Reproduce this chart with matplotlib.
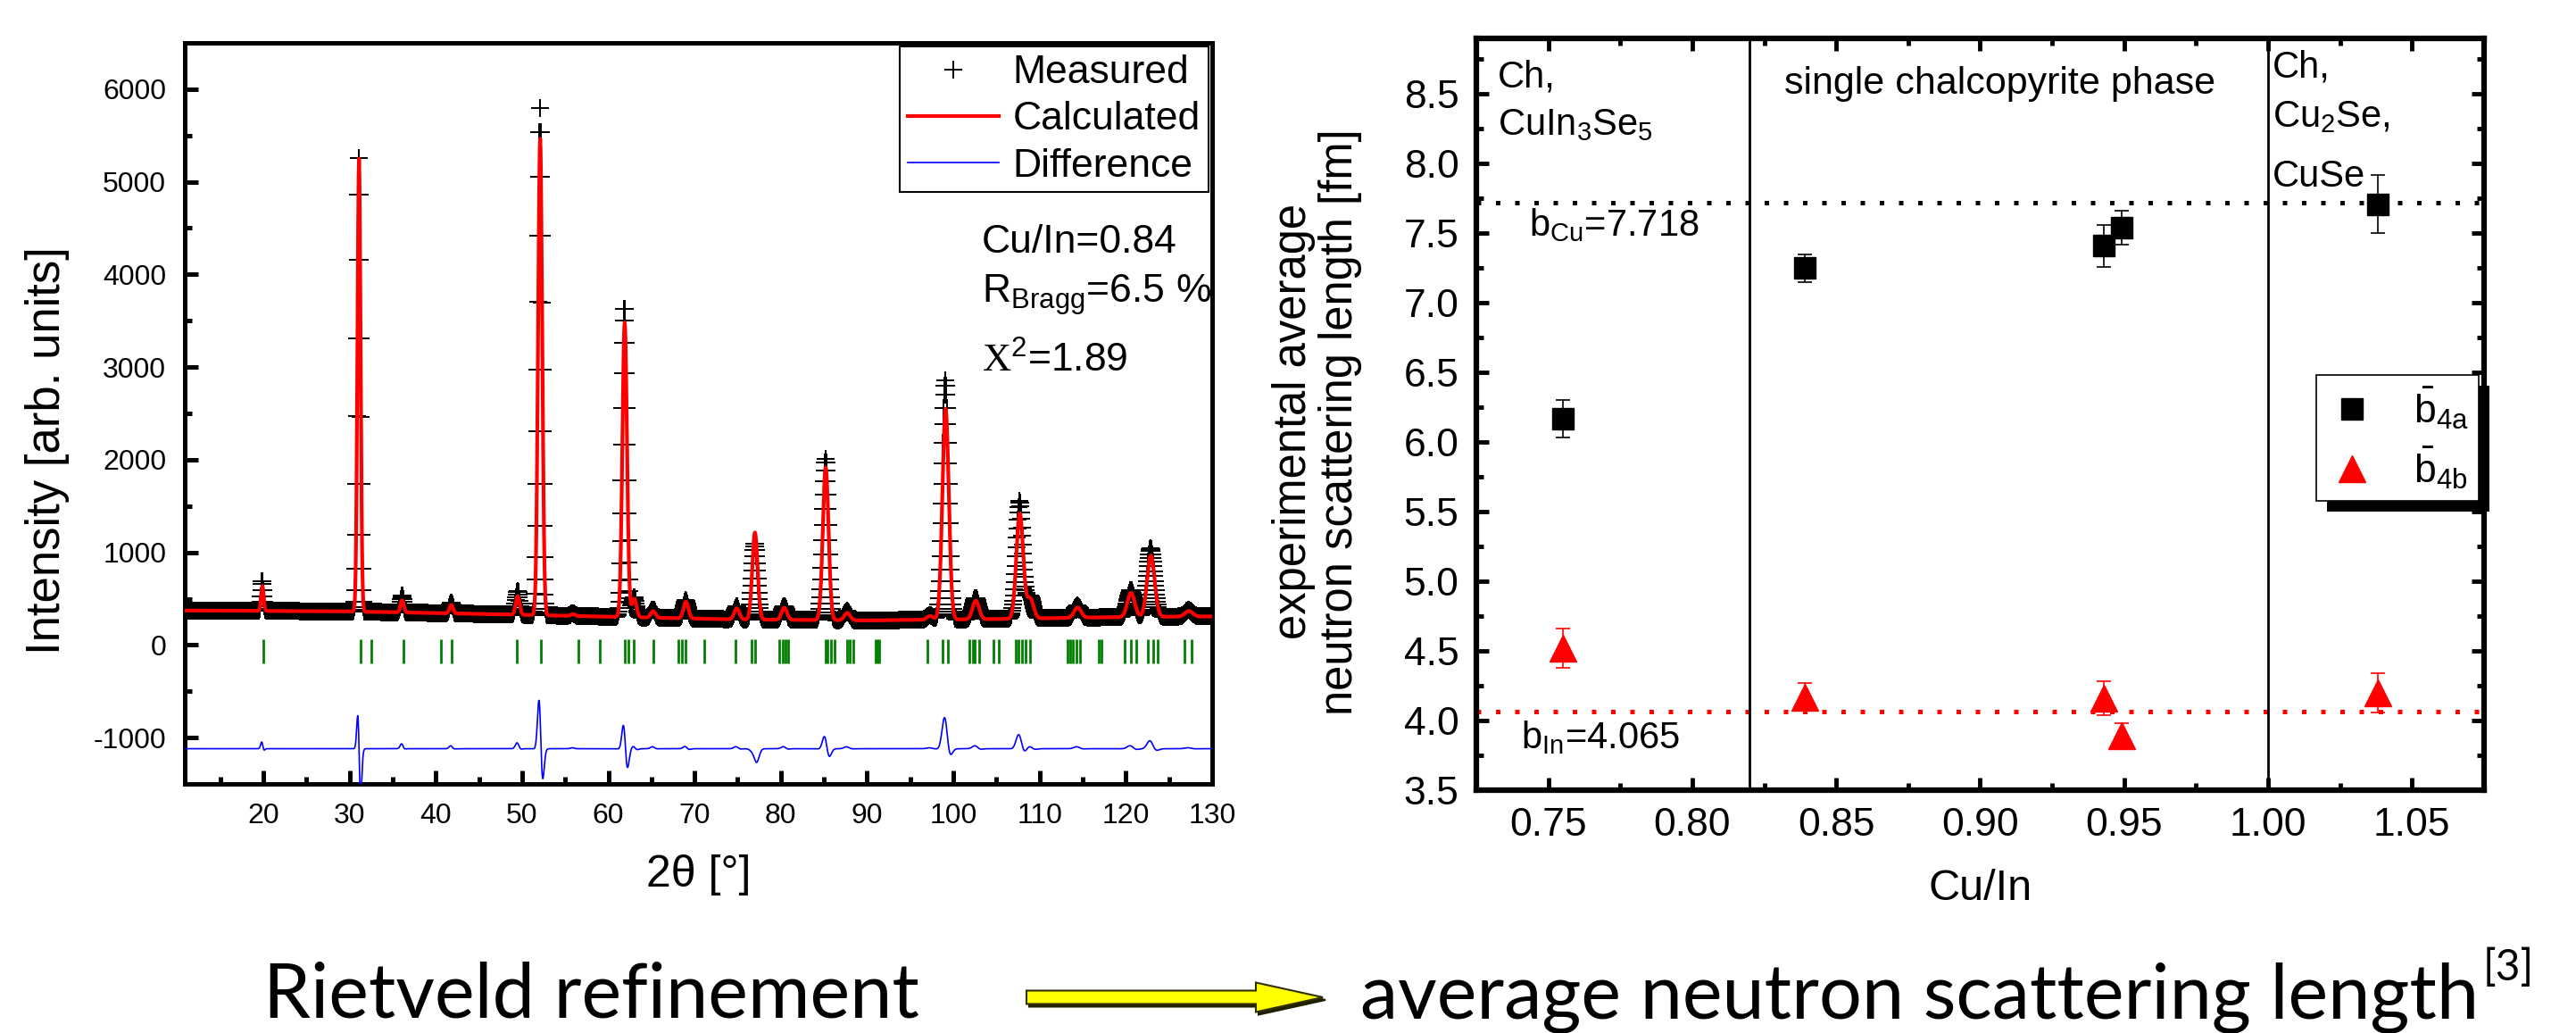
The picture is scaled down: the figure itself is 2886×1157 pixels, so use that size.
import numpy as np
import matplotlib
matplotlib.use("Agg")
import matplotlib.pyplot as plt
from matplotlib.lines import Line2D
from matplotlib.patches import FancyArrow, Rectangle
from matplotlib.transforms import IdentityTransform
from matplotlib.ticker import MultipleLocator, FormatStrFormatter

plt.rcParams['font.family'] = ['Liberation Sans', 'DejaVu Sans']
plt.rcParams['mathtext.fontset'] = 'custom'
plt.rcParams['mathtext.rm'] = 'Liberation Sans'
plt.rcParams['mathtext.it'] = 'Liberation Sans:italic'
plt.rcParams['mathtext.bf'] = 'Liberation Sans:bold'
plt.rcParams['mathtext.sf'] = 'Liberation Serif'
plt.rcParams['axes.unicode_minus'] = False

# ---------------- left: Rietveld pattern ----------------
bg_knots = [11, 30, 45, 60, 75, 90, 105, 120, 130]
bg_level = [372, 362, 335, 305, 275, 265, 280, 302, 308]

peak_pos = [19.9, 31.1, 36.1, 41.8, 49.5, 52.1, 55.9, 61.9, 63.0, 65.2, 69.0,
            74.9, 77.0, 80.4, 85.2, 87.7, 97.3, 99.1, 102.6, 107.7, 108.9,
            114.4, 120.6, 122.9, 127.3]
calc_height = [270, 4890, 130, 90, 200, 5145, 20, 3180, 200, 70, 180,
               120, 940, 130, 1650, 80, 40, 2275, 200, 1135, 215,
               110, 260, 660, 60]
obs_height = [330, 4950, 180, 120, 260, 5505, 30, 3340, 220, 90, 200,
              140, 820, 150, 1750, 100, 50, 2585, 230, 1275, 240,
              130, 290, 740, 70]
obs_shift = -0.025  # measured peaks sit slightly left of the fit

reflections = [20.0, 31.3, 32.5, 36.2, 40.6, 41.8, 49.4, 52.2, 56.5, 59.0,
               61.9, 62.3, 62.9, 65.2, 68.1, 68.5, 69.0, 71.1, 74.7, 76.6,
               77.0, 79.8, 80.2, 80.5, 80.9, 85.2, 85.4, 85.8, 86.2, 87.7,
               88.0, 88.4, 91.0, 91.2, 91.4, 97.0, 98.8, 99.4, 101.9, 102.3,
               102.5, 103.0, 104.6, 105.3, 107.2, 107.5, 108.0, 108.4, 108.9,
               113.2, 113.5, 113.9, 114.3, 114.7, 116.9, 117.2, 119.9, 120.6,
               121.2, 122.6, 123.2, 123.7, 126.8, 127.6, 130.0]

diff_offset = -1120
two_theta = np.arange(11.0, 130.0001, 0.05)


def profile(x, heights, width_scale=1.0, shift=0.0):
    y = np.interp(x, bg_knots, bg_level)
    for p, h in zip(peak_pos, heights):
        fwhm = (0.35 + 0.0065 * (p - 20)) * width_scale
        y = y + h * np.exp(-4 * np.log(2) * ((x - p - shift) / fwhm) ** 2)
    return y


calc = profile(two_theta, calc_height)
meas = profile(two_theta, obs_height, 0.96, obs_shift)
diff = meas - calc + diff_offset

# ---------------- right: scattering lengths ----------------
cu_in = [0.755, 0.839, 0.943, 0.949, 1.038]
b4a = [6.17, 7.25, 7.41, 7.54, 7.71]
b4a_err = [0.135, 0.10, 0.15, 0.12, 0.21]
b4b = [4.52, 4.17, 4.16, 3.89, 4.20]
b4b_err = [0.14, 0.10, 0.12, 0.09, 0.14]
b_cu = 7.718
b_in = 4.065
phase_bounds = [0.82, 1.00]

W, H = 2886, 1157
fig = plt.figure(figsize=(W / 100, H / 100), dpi=100)

# left axes
ax1 = fig.add_axes([207 / W, (H - 878) / H, 1151 / W, 830 / H])
ax1.plot(two_theta, meas, ls='none', marker='+', ms=14, mew=1.4,
         color='black', label='Measured', zorder=2)
ax1.plot(two_theta, calc, color='red', lw=3, label='Calculated', zorder=3)
ax1.plot(two_theta, diff, color='blue', lw=1.2, label='Difference', zorder=3)
ax1.vlines(reflections, -200, 60, color='#008000', lw=2, zorder=2)
ax1.set_xlim(10.9, 130)
ax1.set_ylim(-1500, 6500)
ax1.xaxis.set_major_locator(MultipleLocator(10))
ax1.xaxis.set_minor_locator(MultipleLocator(5))
ax1.yaxis.set_major_locator(MultipleLocator(1000))
ax1.yaxis.set_minor_locator(MultipleLocator(500))
ax1.tick_params(which='both', direction='in', width=3.6, labelsize=23, pad=15)
ax1.tick_params(which='major', length=11)
ax1.tick_params(which='minor', length=6)
for s in ax1.spines.values():
    s.set_linewidth(3.6)
ax1.set_xlabel('2θ [°]', fontsize=36)
ax1.xaxis.set_label_coords(0.5, -0.095)
ax1.set_ylabel('Intensity [arb. units]', fontsize=38)
ax1.yaxis.set_label_coords(-0.112, 0.45)
leg1 = ax1.legend(loc='upper right', bbox_to_anchor=(1.0, 1.0), fontsize=32,
                  frameon=True, fancybox=False, framealpha=1, edgecolor='black',
                  borderaxespad=0.1, borderpad=0.2, labelspacing=0.25,
                  handlelength=2.3, handletextpad=0.35)
leg1.get_frame().set_linewidth(1.5)
ax1.text(103.3, 4235, 'Cu/In=0.84', fontsize=32, va='baseline')
ax1.text(103.3, 3695, r'R$_{\mathrm{Bragg}}$=6.5 %', fontsize=32, va='baseline')
ax1.text(103.3, 2943, r'$\mathsf{X}^{2}$=1.89', fontsize=32, va='baseline')

# right axes
ax2 = fig.add_axes([1654 / W, (H - 885) / H, 1129 / W, 842 / H])
ax2.axhline(b_cu, color='black', lw=3.6, ls=(0, (1, 3.3)), zorder=1)
ax2.axhline(b_in, color='red', lw=3.6, ls=(0, (1, 3.3)), zorder=1)
for xb in phase_bounds:
    ax2.axvline(xb, color='black', lw=2, zorder=1)
ax2.errorbar(cu_in, b4a, yerr=b4a_err, fmt='s', color='black', ms=17,
             ecolor='black', elinewidth=1.2, capsize=6, capthick=1.2, zorder=3)
ax2.errorbar(cu_in, b4b, yerr=b4b_err, fmt='^', color='red', ms=21,
             ecolor='red', elinewidth=1.2, capsize=6, capthick=1.2, zorder=3)
ax2.set_xlim(0.725, 1.075)
ax2.set_ylim(3.5, 8.9)
ax2.xaxis.set_major_locator(MultipleLocator(0.05))
ax2.xaxis.set_minor_locator(MultipleLocator(0.025))
ax2.yaxis.set_major_locator(MultipleLocator(0.5))
ax2.yaxis.set_minor_locator(MultipleLocator(0.25))
ax2.xaxis.set_major_formatter(FormatStrFormatter('%.2f'))
ax2.yaxis.set_major_formatter(FormatStrFormatter('%.1f'))
ax2.tick_params(which='both', direction='in', width=3.5, labelsize=32, pad=14,
                top=True, right=True)
ax2.tick_params(which='major', length=10)
ax2.tick_params(which='minor', length=6)
for s in ax2.spines.values():
    s.set_linewidth(4.5)
ax2.set_xlabel('Cu/In', fontsize=35)
ax2.xaxis.set_label_coords(0.5, -0.105)
ax2.set_ylabel('experimental average\nneutron scattering length [fm]',
               fontsize=36.5, linespacing=1.1)
ax2.yaxis.set_label_coords(-0.113, 0.49)

ax2.text(0.7324, 8.55, 'Ch,', fontsize=30, va='baseline')
ax2.text(0.7324, 8.205, r'CuIn$_3$Se$_5$', fontsize=30, va='baseline')
ax2.text(0.8319, 8.5, 'single chalcopyrite phase', fontsize=31, va='baseline')
ax2.text(1.0015, 8.62, 'Ch,', fontsize=30, va='baseline')
ax2.text(1.0015, 8.265, r'Cu$_2$Se,', fontsize=30, va='baseline')
ax2.text(1.0015, 7.836, 'CuSe', fontsize=30, va='baseline')
ax2.text(0.7432, 7.48, r'b$_{\mathrm{Cu}}$=7.718', fontsize=30, va='baseline')
ax2.text(0.7404, 3.80, r'b$_{\mathrm{In}}$=4.065', fontsize=30, va='baseline')

handles = [Line2D([], [], ls='none', marker='s', ms=17, color='black'),
           Line2D([], [], ls='none', marker='^', ms=21, color='red')]
labels = [r'$\bar{\mathrm{b}}_{\mathrm{4a}}$', r'$\bar{\mathrm{b}}_{\mathrm{4b}}$']
leg2 = ax2.legend(handles, labels, loc='upper right',
                  bbox_to_anchor=(0.9947, 0.552), fontsize=32, frameon=True,
                  fancybox=False, framealpha=1, edgecolor='black',
                  borderaxespad=0, borderpad=0.25, labelspacing=0.35,
                  handlelength=1.3, handletextpad=0.9)
leg2.get_frame().set_linewidth(1.2)
leg2.set_zorder(6)

# bottom caption
cap_font = ['Liberation Sans Narrow', 'Lato', 'DejaVu Sans']
cap_left = fig.text(295 / W, (H - 1140) / H, 'Rietveld refinement',
                    family=cap_font, fontsize=60, va='baseline')
cap_right = fig.text(1524 / W, (H - 1140) / H,
                     'average neutron scattering length',
                     family=cap_font, fontsize=60, va='baseline')

fig.canvas.draw()
renderer = fig.canvas.get_renderer()
scale = 1255 / cap_right.get_window_extent(renderer).width
cap_left.set_fontsize(60 * scale)
cap_right.set_fontsize(60 * scale)
fig.canvas.draw()
rb = cap_right.get_window_extent(renderer)
fig.text((rb.x1 + 4) / W, (H - 1098) / H, '[3]', family=cap_font,
         fontsize=34 * scale, va='baseline')

# legend shadow
lb = leg2.get_window_extent(renderer)
ax2.add_patch(Rectangle((lb.x0 + 12, lb.y0 - 12), lb.width, lb.height,
                        transform=IdentityTransform(), facecolor='black',
                        edgecolor='none', clip_on=False, zorder=5))

# yellow arrow
for off, fc, ec in [(3, '#202000', '#202000'), (0, '#ffff00', '#303000')]:
    fig.patches.append(FancyArrow(1150 + off, H - 1117 - off, 332, 0, width=15,
                                  head_width=33, head_length=75,
                                  length_includes_head=True, facecolor=fc,
                                  edgecolor=ec, lw=1.5,
                                  transform=IdentityTransform(), figure=fig))

fig.savefig('out.png', dpi=100)
